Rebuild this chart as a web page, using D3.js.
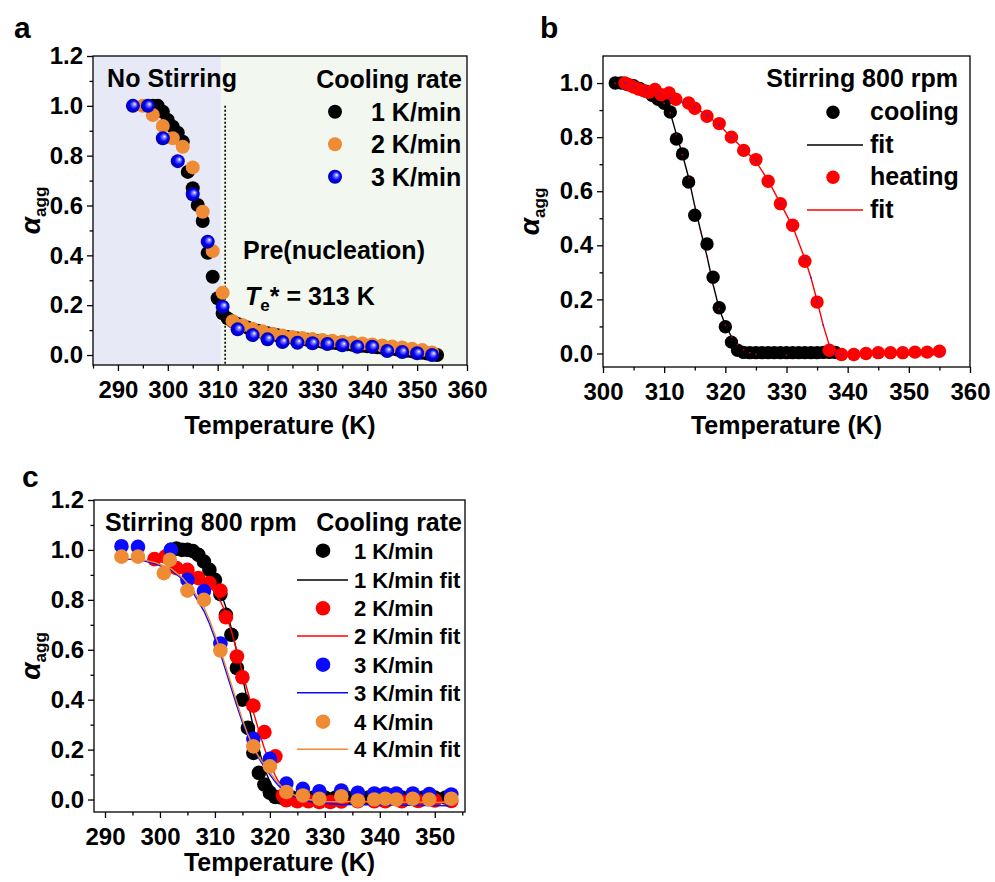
<!DOCTYPE html>
<html><head><meta charset="utf-8">
<script src="https://cdn.jsdelivr.net/npm/d3@7"></script>
<style>
body{margin:0;background:#fff;}
svg text{font-family:"Liberation Sans",Arial,Helvetica,sans-serif;font-weight:bold;fill:#000;}
</style></head><body>
<svg id="fig" width="995" height="882"></svg>
<script>
// ---------- Panel a: no stirring, three cooling rates ----------
const aCool1 = [[297,1.0],[298,1.0],[299,0.976],[300,0.943],[301,0.916],[302,0.892],[303,0.856],[304,0.735],[305,0.669],[306,0.602],[307,0.538],[308,0.41],[309,0.314],[310,0.228],[311,0.167],[312,0.147],
  [313,0.135],[314,0.125],[315,0.118],[316,0.11],[317,0.103],[318,0.097],[319,0.092],[320,0.087],[321,0.083],[322,0.079],[323,0.075],[324,0.072],[325,0.069],[326,0.066],[327,0.063],[328,0.061],[329,0.058],[330,0.056],
  [331,0.053],[332,0.051],[333,0.049],[334,0.047],[335,0.045],[336,0.043],[337,0.041],[338,0.039],[339,0.037],[340,0.035],[341,0.033],[342,0.031],[343,0.029],[344,0.027],[345,0.025],[346,0.022],[347,0.02],[348,0.017],
  [349,0.015],[350,0.012],[351,0.009],[352,0.006],[353,0.003],[354,0.0]];
const aCool2 = [[295,1.0],[297,0.963],[299,0.919],[301,0.87],[303,0.836],[305,0.753],[307,0.575],[309,0.417],[311,0.25],[313,0.136],[315,0.12],[317,0.105],[319,0.095],[321,0.085],[323,0.078],[325,0.072],[327,0.068],
  [329,0.064],[331,0.06],[333,0.057],[335,0.053],[337,0.05],[339,0.046],[341,0.042],[343,0.038],[345,0.034],[347,0.03],[349,0.025],[351,0.02],[353,0.01]];
const aCool3 = [[293,1.0],[296,1.0],[299,0.87],[302,0.778],[305,0.645],[308,0.455],[311,0.194],[314,0.103],[317,0.08],[320,0.063],[323,0.052],[326,0.049],[329,0.047],[332,0.044],[335,0.039],[338,0.033],[341,0.033],
  [344,0.016],[347,0.012],[350,0.007],[353,0.0]];
const aLegend = ["1 K/min","2 K/min","3 K/min"];
const aBoundaryT = 310.7;   // edge between the two shaded regimes
const aTeLineT = 311.5;     // dotted marker line

// ---------- Panel b: stirring 800 rpm, cooling vs heating ----------
const bCooling = [[302,1.0],[303,1.0],[304,0.995],[305,0.99],[306,0.98],[307,0.97],[308,0.955],[309,0.94],[310,0.925],[311,0.893],[312,0.793],[313,0.738],[314,0.634],[315,0.511],[317,0.405],[318,0.282],[319,0.169],
  [320,0.099],[321,0.042],[322,0.012],[323,0.004],[324,0.003],[325,0.003],[326,0.003],[327,0.003],[328,0.003],[329,0.003],[330,0.003],[331,0.003],[332,0.003],[333,0.003],[334,0.003],[335,0.003],[336,0.004],[337,0.004],[338,0.004]];
const bCoolingFit = [[302,1.0],[304,0.995],[306,0.982],[308,0.96],[309,0.945],[310,0.925],[311,0.89],[312,0.81],[313,0.735],[314,0.65],[315,0.545],[316,0.45],[317,0.36],[318,0.255],[319,0.165],[320,0.105],[321,0.062],
  [322,0.033],[323,0.014],[324,0.003],[325,-0.003],[330,-0.006],[338,-0.006]];
const bHeating = [[303.6,1.0],[304.3,0.993],[305,0.985],[305.8,0.978],[306.6,0.972],[307.5,0.966],[308.5,0.976],[309.5,0.957],[310.8,0.963],[311.9,0.94],[314,0.926],[315,0.907],[317,0.877],[319,0.85],[321,0.8],
  [323,0.751],[325,0.717],[327,0.637],[329,0.554],[331,0.474],[333,0.341],[335,0.19],[337,0.012],[339,-0.004],[341,-0.004],[343,0.0],[345,0.003],[347,0.003],[349,0.003],[351,0.005],[353,0.005],[355,0.008]];
const bHeatingFit = [[303.6,1.0],[305,0.99],[307,0.975],[309,0.96],[311,0.945],[313,0.93],[315,0.91],[317,0.88],[319,0.845],[321,0.8],[323,0.755],[325,0.71],[327,0.64],[329,0.555],[331,0.47],[333,0.35],[334,0.28],
  [335,0.195],[336,0.105],[337,0.03],[338,0.0],[339,-0.004],[345,-0.004],[355,-0.004]];
const bLegend = ["cooling","fit","heating","fit"];

// ---------- Panel c: stirring 800 rpm, four cooling rates ----------
const cRate1 = [[302,1.0],[303,1.005],[304,1.0],[305,1.0],[306,0.995],[307,0.98],[308,0.953],[309,0.92],[310,0.88],[311,0.823],[312,0.74],[313,0.66],[314,0.527],[315,0.4],[316,0.287],[317,0.187],[318,0.107],[319,0.06],
  [320,0.027],[321,0.01],[322,0.008],[324,0.008],[326,0.008],[328,0.008],[330,0.008],[332,0.008],[334,0.008],[336,0.008],[338,0.008],[340,0.008],[342,0.008],[344,0.008],[346,0.008],[348,0.008],[350,0.008],[352,0.008]];
const cRate1Fit = [[302,1.0],[304,0.995],[306,0.985],[307,0.97],[308,0.95],[309,0.92],[310,0.885],[311,0.835],[312,0.77],[313,0.685],[314,0.59],[315,0.49],[316,0.39],[317,0.29],[318,0.2],[319,0.125],[320,0.07],
  [321,0.035],[322,0.015],[324,0.0],[328,-0.01],[353,-0.012]];
const cRate2 = [[299,0.963],[301,0.973],[303,0.927],[305,0.92],[307,0.887],[309,0.867],[311,0.837],[312,0.73],[314,0.573],[315,0.49],[317,0.376],[319,0.27],[321,0.173],[322.4,0.016],[323,-0.003],[325,-0.007],
  [327,-0.007],[329,-0.01],[331,-0.01],[333,-0.008],[336,-0.007],[339,-0.007],[341,-0.007],[344,-0.007],[347,-0.006],[350,-0.004],[353,-0.006]];
const cRate2Fit = [[299,0.958],[301,0.95],[303,0.935],[305,0.915],[307,0.89],[309,0.855],[310,0.83],[311,0.795],[312,0.745],[313,0.675],[314,0.595],[315,0.51],[316,0.43],[317,0.35],[318,0.275],[319,0.205],
  [320,0.145],[321,0.095],[322,0.055],[323,0.025],[324,0.01],[326,0.0],[330,-0.006],[353,-0.008]];
const cRate3 = [[293,1.015],[296,1.012],[302,1.0],[305,0.88],[308,0.835],[311,0.625],[317,0.243],[320,0.163],[323,0.064],[326,0.043],[329,0.033],[333,0.036],[336,0.027],[339,0.024],[341,0.024],[343,0.024],
  [346,0.024],[349,0.022],[353,0.02]];
const cRate3Fit = [[293,0.962],[296,0.962],[299,0.945],[302,0.92],[304,0.885],[306,0.83],[308,0.755],[309,0.705],[310,0.645],[311,0.585],[312,0.515],[313,0.445],[314,0.375],[315,0.31],[316,0.255],[317,0.21],
  [318,0.165],[319,0.13],[320,0.1],[321,0.07],[322,0.045],[323,0.03],[325,0.005],[328,-0.012],[333,-0.02],[353,-0.025]];
const cRate4 = [[293,0.973],[296,0.973],[300.7,0.907],[301.8,0.96],[305,0.837],[308,0.8],[311,0.597],[317,0.213],[320,0.133],[323,0.03],[326,0.016],[329,0.003],[333,0.013],[336,-0.004],[339,0.0],[341,0.003],
  [343,0.0],[346,0.003],[349,0.0],[353,0.003]];
const cRate4Fit = [[293,0.965],[296,0.965],[299,0.95],[302,0.925],[304,0.89],[306,0.84],[308,0.77],[309,0.72],[310,0.66],[311,0.6],[312,0.53],[313,0.46],[314,0.39],[315,0.32],[316,0.26],[317,0.21],[318,0.17],
  [319,0.14],[320,0.11],[321,0.08],[322,0.055],[323,0.035],[325,0.012],[327,0.0],[330,-0.008],[353,-0.012]];
const cLegend = ["1 K/min","1 K/min fit","2 K/min","2 K/min fit","3 K/min","3 K/min fit","4 K/min","4 K/min fit"];

// ---------- shared tick values ----------
const aTempTicks = [290,300,310,320,330,340,350,360];
const aTempMinor = [285,295,305,315,325,335,345,355];
const bTempTicks = [300,310,320,330,340,350,360];
const bTempMinor = [305,315,325,335,345,355];
const cTempTicks = [290,300,310,320,330,340,350];
const cTempMinor = [295,305,315,325,335,345,355];
const alphaTicks12 = [0,0.2,0.4,0.6,0.8,1.0,1.2];
const alphaMinor12 = [0.1,0.3,0.5,0.7,0.9,1.1];
const alphaTicks10 = [0,0.2,0.4,0.6,0.8,1.0];
const alphaMinor10 = [0.1,0.3,0.5,0.7,0.9];

const BLACK = "#000000", ORANGE = "#ef8a35", RED = "#ff0000", BLUE = "#0a0aff";
const LABEL_SIZE = 25, TICK_SIZE = 24, C_ENTRY_SIZE = 22;

const svg = d3.select("#fig");
const defs = svg.append("defs");
const sph = defs.append("radialGradient").attr("id","blueSphere")
  .attr("cx","50%").attr("cy","50%").attr("r","55%").attr("fx","64%").attr("fy","36%");
sph.append("stop").attr("offset","0%").attr("stop-color","#ffffff");
sph.append("stop").attr("offset","22%").attr("stop-color","#7f7fff");
sph.append("stop").attr("offset","55%").attr("stop-color","#0000f0");
sph.append("stop").attr("offset","100%").attr("stop-color","#00009a");

function makeAxes(g, x, y, box, opt) {
  g.append("g").attr("transform", `translate(0,${box.bottom})`)
    .call(d3.axisBottom(x).tickValues(opt.xTicks).tickFormat(d3.format("d")).tickSize(6).tickPadding(10));
  g.append("g").attr("transform", `translate(0,${box.bottom})`)
    .call(d3.axisBottom(x).tickValues(opt.xMinor).tickFormat("").tickSize(3.5));
  g.append("g").attr("transform", `translate(${box.left},0)`)
    .call(d3.axisLeft(y).tickValues(opt.yTicks).tickFormat(d3.format(".1f")).tickSize(6).tickPadding(4));
  g.append("g").attr("transform", `translate(${box.left},0)`)
    .call(d3.axisLeft(y).tickValues(opt.yMinor).tickFormat("").tickSize(3.5));
  g.selectAll(".domain").remove();
  g.selectAll(".tick line").attr("stroke", "#000").attr("stroke-width", 1.3);
  g.selectAll(".tick text").attr("font-size", TICK_SIZE).attr("fill", "#000")
    .style("font-family", '"Liberation Sans",Arial,sans-serif').style("font-weight", "bold");
  // frame
  g.append("rect").attr("x", box.left).attr("y", box.top)
    .attr("width", box.right - box.left).attr("height", box.bottom - box.top)
    .attr("fill", "none").attr("stroke", "#000").attr("stroke-width", 1.3);
  // axis titles
  g.append("text").attr("x", (box.left + box.right) / 2).attr("y", opt.xTitleY)
    .attr("text-anchor", "middle").attr("font-size", 25).text("Temperature (K)");
  const yt = g.append("text")
    .attr("transform", `translate(${opt.yTitleX},${(box.top + box.bottom) / 2}) rotate(-90)`)
    .attr("text-anchor", "middle").attr("font-size", 25);
  yt.append("tspan").text("α").style("font-style", "italic").attr("font-size", 28);
  yt.append("tspan").text("agg").attr("font-size", 17).attr("dy", 6);
}

function scatter(g, x, y, data, r, fill) {
  g.append("g").selectAll("circle").data(data).join("circle")
    .attr("cx", d => x(d[0])).attr("cy", d => y(d[1])).attr("r", r).attr("fill", fill);
}
function fitLine(g, x, y, data, color, dotColor) {
  g.append("path").datum(data)
    .attr("d", d3.line().x(d => x(d[0])).y(d => y(d[1])))
    .attr("fill", "none").attr("stroke", color).attr("stroke-width", 1.4);
  if (dotColor) {
    g.append("g").selectAll("circle").data(data).join("circle")
      .attr("cx", d => x(d[0])).attr("cy", d => y(d[1])).attr("r", 0.9).attr("fill", dotColor);
  }
}

// ===================== Panel a =====================
{
  const box = {left: 93, right: 467, top: 56, bottom: 365};
  const x = d3.scaleLinear().domain([285, 360]).range([box.left, box.right]);
  const y = d3.scaleLinear().domain([-0.04, 1.2]).range([box.bottom, box.top]);
  const g = svg.append("g");
  g.append("rect").attr("x", box.left).attr("y", box.top)
    .attr("width", x(aBoundaryT) - box.left).attr("height", box.bottom - box.top).attr("fill", "#e7eaf6");
  g.append("rect").attr("x", x(aBoundaryT)).attr("y", box.top)
    .attr("width", box.right - x(aBoundaryT)).attr("height", box.bottom - box.top).attr("fill", "#f2f8f0");
  g.append("line").attr("x1", x(aTeLineT)).attr("x2", x(aTeLineT)).attr("y1", y(1.0)).attr("y2", box.bottom)
    .attr("stroke", "#000").attr("stroke-width", 1.6).attr("stroke-dasharray", "2,2");
  scatter(g, x, y, aCool1, 7, BLACK);
  scatter(g, x, y, aCool2, 7, ORANGE);
  scatter(g, x, y, aCool3, 7, "url(#blueSphere)");
  makeAxes(g, x, y, box, {xTicks: aTempTicks, xMinor: aTempMinor, yTicks: alphaTicks12, yMinor: alphaMinor12, xTitleY: 434, yTitleX: 40});

  g.append("text").attr("x", 107).attr("y", 87).attr("font-size", LABEL_SIZE)
    .attr("textLength", 130).attr("lengthAdjust", "spacing").text("No Stirring");
  g.append("text").attr("x", 462).attr("y", 88).attr("text-anchor", "end").attr("font-size", LABEL_SIZE).text("Cooling rate");
  const rowsY = [111.7, 144.3, 176.7];
  const fills = [BLACK, ORANGE, "url(#blueSphere)"];
  aLegend.forEach((t, i) => {
    g.append("circle").attr("cx", 335).attr("cy", rowsY[i]).attr("r", 7).attr("fill", fills[i]);
    g.append("text").attr("x", 371).attr("y", rowsY[i] + 9).attr("font-size", LABEL_SIZE).text(t);
  });
  g.append("text").attr("x", 243).attr("y", 259).attr("font-size", LABEL_SIZE).text("Pre(nucleation)");
  const te = g.append("text").attr("x", 245).attr("y", 305).attr("font-size", LABEL_SIZE);
  te.append("tspan").text("T").style("font-style", "italic");
  te.append("tspan").text("e").attr("font-size", 17).attr("dy", 6);
  te.append("tspan").text("* = 313 K").attr("dy", -6);
  svg.append("text").attr("x", 14).attr("y", 38).attr("font-size", 30).text("a");
}

// ===================== Panel b =====================
{
  const box = {left: 603, right: 970, top: 56, bottom: 367};
  const x = d3.scaleLinear().domain([300, 360]).range([box.left, box.right]);
  const y = d3.scaleLinear().domain([-0.05, 1.1]).range([box.bottom, box.top]);
  const g = svg.append("g");
  scatter(g, x, y, bCooling, 6.7, BLACK);
  fitLine(g, x, y, bCoolingFit, BLACK, "#cc0000");
  scatter(g, x, y, bHeating, 6.7, RED);
  fitLine(g, x, y, bHeatingFit, RED, "#2a2aff");
  makeAxes(g, x, y, box, {xTicks: bTempTicks, xMinor: bTempMinor, yTicks: alphaTicks10, yMinor: alphaMinor10, xTitleY: 434, yTitleX: 539});

  g.append("text").attr("x", 958).attr("y", 87).attr("text-anchor", "end").attr("font-size", LABEL_SIZE).text("Stirring 800 rpm");
  const rowsY = [112.3, 145, 177.3, 210];
  bLegend.forEach((t, i) => {
    const col = i < 2 ? BLACK : RED;
    if (i % 2 === 0) {
      g.append("circle").attr("cx", 833).attr("cy", rowsY[i]).attr("r", 6.7).attr("fill", col);
    } else {
      g.append("line").attr("x1", 807).attr("x2", 863).attr("y1", rowsY[i]).attr("y2", rowsY[i])
        .attr("stroke", col).attr("stroke-width", 1.4);
    }
    g.append("text").attr("x", 870).attr("y", rowsY[i] + 8).attr("font-size", LABEL_SIZE).text(t);
  });
  svg.append("text").attr("x", 540).attr("y", 38).attr("font-size", 30).text("b");
}

// ===================== Panel c =====================
{
  const box = {left: 94, right: 465, top: 500, bottom: 812};
  const x = d3.scaleLinear().domain([288, 355.5]).range([box.left, box.right]);
  const y = d3.scaleLinear().domain([-0.05, 1.2]).range([box.bottom, box.top]);
  const g = svg.append("g");
  const series = [[cRate1, cRate1Fit, BLACK], [cRate2, cRate2Fit, RED], [cRate3, cRate3Fit, BLUE], [cRate4, cRate4Fit, ORANGE]];
  series.forEach(([pts, fit, col]) => {
    scatter(g, x, y, pts, 7.3, col);
    fitLine(g, x, y, fit, col, null);
  });
  makeAxes(g, x, y, box, {xTicks: cTempTicks, xMinor: cTempMinor, yTicks: alphaTicks12, yMinor: alphaMinor12, xTitleY: 871, yTitleX: 40});

  g.append("text").attr("x", 105).attr("y", 531).attr("font-size", LABEL_SIZE).text("Stirring 800 rpm");
  g.append("text").attr("x", 462).attr("y", 531).attr("text-anchor", "end").attr("font-size", LABEL_SIZE).text("Cooling rate");
  const rowsY = [550.7, 580, 608.3, 636, 664.7, 692.7, 721.7, 749.3];
  const cols = [BLACK, RED, BLUE, ORANGE];
  cLegend.forEach((t, i) => {
    const col = cols[Math.floor(i / 2)];
    if (i % 2 === 0) {
      g.append("circle").attr("cx", 323).attr("cy", rowsY[i]).attr("r", 7.3).attr("fill", col);
    } else {
      g.append("line").attr("x1", 297).attr("x2", 348).attr("y1", rowsY[i]).attr("y2", rowsY[i])
        .attr("stroke", col).attr("stroke-width", 1.4);
    }
    g.append("text").attr("x", 354).attr("y", rowsY[i] + 8).attr("font-size", C_ENTRY_SIZE).text(t);
  });
  svg.append("text").attr("x", 22).attr("y", 487).attr("font-size", 30).text("c");
}
</script>
</body></html>
